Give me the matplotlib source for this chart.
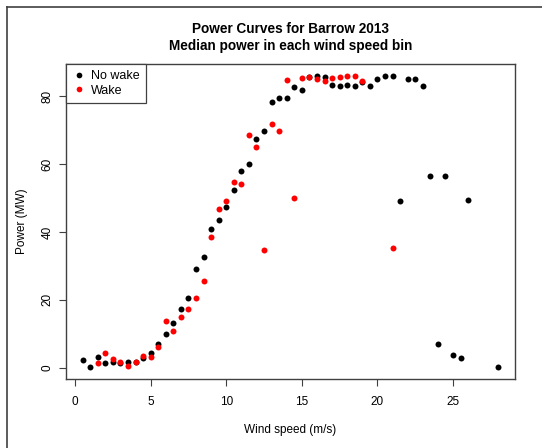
import matplotlib
matplotlib.use("Agg")
import matplotlib.pyplot as plt
from matplotlib.lines import Line2D

# ================================== DADOS ==================================

# Velocidade do vento (m/s) e potência mediana (MW) - sem esteira
vel_sem_esteira = [0.5, 1.0, 1.5, 2.0, 2.5, 3.0, 3.5, 4.0, 4.5, 5.0,
                   5.5, 6.0, 6.5, 7.0, 7.5, 8.0, 8.5, 9.0, 9.5, 10.0,
                   10.5, 11.0, 11.5, 12.0, 12.5, 13.0, 13.5, 14.0, 14.5, 15.0,
                   15.5, 16.0, 16.5, 17.0, 17.5, 18.0, 18.5, 19.0, 19.5, 20.0,
                   20.5, 21.0, 21.5, 22.0, 22.5, 23.0, 23.5, 24.0, 24.5, 25.0,
                   25.5, 26.0, 28.0]
pot_sem_esteira = [2.4, 0.1, 3.3, 1.4, 1.8, 1.4, 1.6, 1.6, 2.9, 4.5,
                   7.1, 10.0, 13.2, 17.4, 20.5, 29.2, 32.5, 40.8, 43.5, 47.4,
                   52.4, 58.1, 59.9, 67.3, 69.7, 78.2, 79.6, 79.6, 82.7, 81.8,
                   85.6, 86.0, 85.8, 83.2, 82.9, 83.2, 82.9, 84.1, 82.9, 85.2,
                   85.9, 85.9, 49.2, 85.2, 85.2, 83.1, 56.6, 6.9, 56.4, 3.9,
                   2.8, 49.4, 0.3]

# Velocidade do vento (m/s) e potência mediana (MW) - com esteira
vel_esteira = [1.5, 2.0, 2.5, 3.0, 3.5, 4.0, 4.5, 5.0, 5.5, 6.0,
               6.5, 7.0, 7.5, 8.0, 8.5, 9.0, 9.5, 10.0, 10.5, 11.0,
               11.5, 12.0, 12.5, 13.0, 13.5, 14.0, 14.5, 15.0, 15.5, 16.0,
               16.5, 17.0, 17.5, 18.0, 18.5, 19.0, 21.0]
pot_esteira = [1.4, 4.3, 2.6, 1.8, 0.6, 1.6, 3.5, 3.3, 6.1, 13.9,
               10.7, 15.1, 17.4, 20.7, 25.6, 38.4, 46.7, 49.2, 54.7, 54.2,
               68.6, 65.1, 34.7, 71.8, 69.7, 84.8, 50.0, 85.4, 85.6, 85.2,
               84.6, 85.3, 85.7, 85.9, 86.1, 84.6, 35.3]

ticks_x = [0, 5, 10, 15, 20, 25]
ticks_y = [0, 20, 40, 60, 80]

# ================================== GRÁFICO ==================================

plt.rcParams['font.family'] = ['Liberation Sans', 'DejaVu Sans']
cor_linha = '#404040'

fig = plt.figure(figsize=(5.42, 4.48), dpi=100)
ax = fig.add_axes([66 / 542, 1 - 379 / 448, (515 - 66) / 542, (379 - 64) / 448])

ax.plot(vel_sem_esteira, pot_sem_esteira, 'o', color='black', markersize=4.3,
        markeredgewidth=0, label='No wake')
ax.plot(vel_esteira, pot_esteira, 'o', color='red', markersize=4.3,
        markeredgewidth=0, label='Wake')

ax.set_xlim(-0.6, 29.1)
ax.set_ylim(-3.3, 89.5)
ax.set_xticks(ticks_x)
ax.set_yticks(ticks_y)
ax.tick_params(direction='out', length=5, width=0.8, color=cor_linha,
               labelsize=8.5, pad=7)
ax.tick_params(axis='y', pad=4)
for lbl in ax.get_yticklabels():
    lbl.set_rotation(90)
    lbl.set_va('center')
for sp in ax.spines.values():
    sp.set_color(cor_linha)
    sp.set_linewidth(1.0)

ax.set_xlabel('Wind speed (m/s)', fontsize=8.5, labelpad=12)
ax.set_ylabel('Power (MW)', fontsize=8.5, labelpad=10)
ax.set_title('Power Curves for Barrow 2013\nMedian power in each wind speed bin',
             fontsize=9.8, fontweight='bold', pad=10, linespacing=1.3)

leg = ax.legend(loc='upper left', bbox_to_anchor=(0, 1), borderaxespad=0,
                fancybox=False, framealpha=1, edgecolor=cor_linha, fontsize=9,
                handlelength=1.0, handletextpad=0.5, borderpad=0.5,
                labelspacing=0.2, markerscale=0.95)
leg.get_frame().set_linewidth(0.9)

# Moldura da captura (linhas superior e esquerda)
fig.add_artist(Line2D([7 / 542, 1], [1 - 7.5 / 448, 1 - 7.5 / 448],
                      color=cor_linha, linewidth=1.2))
fig.add_artist(Line2D([7 / 542, 7 / 542], [0, 1 - 7.5 / 448],
                      color=cor_linha, linewidth=1.2))

fig.savefig('out.png', dpi=100)
